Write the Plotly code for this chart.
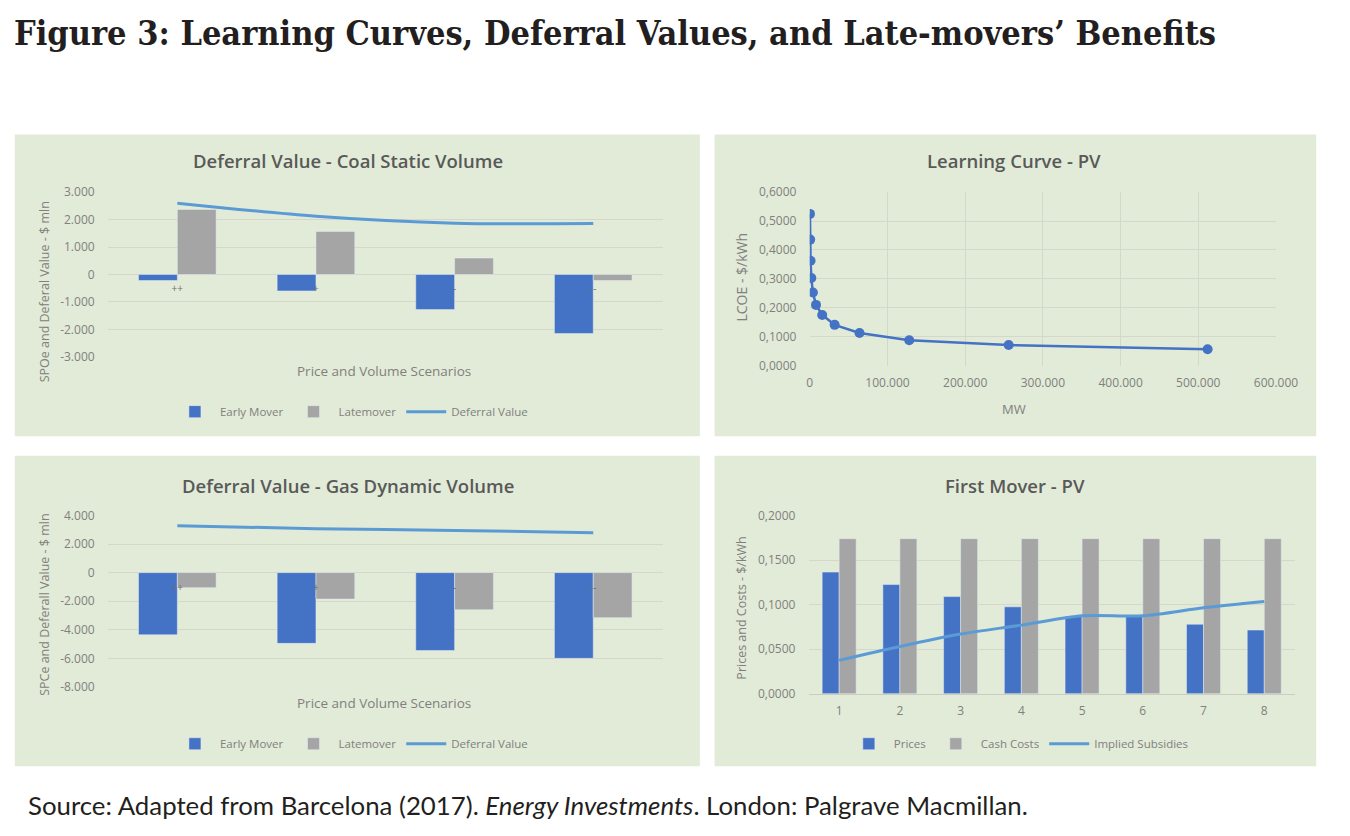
import plotly.graph_objects as go

W, H = 1350, 836

# ---------------- data ----------------
scenarios = ["++", "+", "-", "--"]
coal_early = [-220, -600, -1280, -2150]
coal_late = [2370, 1570, 600, -220]
coal_deferral = [2600, 2120, 1870, 1860]

gas_early = [-4350, -4950, -5450, -6000]
gas_late = [-1050, -1850, -2600, -3150]
gas_deferral = [3280, 3080, 2950, 2800]

lc_mw = [250, 500, 1000, 2000, 4000, 8000, 16000, 32000, 64000, 128000, 256000, 512000]
lc_lcoe = [0.525, 0.436, 0.363, 0.303, 0.253, 0.210, 0.175, 0.141, 0.113, 0.088, 0.071, 0.0565]

periods = ["1", "2", "3", "4", "5", "6", "7", "8"]
prices = [0.1365, 0.1225, 0.1090, 0.0975, 0.0870, 0.0870, 0.0780, 0.0715]
cash_costs = [0.1740, 0.1740, 0.1740, 0.1740, 0.1740, 0.1740, 0.1740, 0.1740]
implied_subsidies = [0.0375, 0.0530, 0.0670, 0.0770, 0.0875, 0.0875, 0.0965, 0.1035]

coal_ticks = [3000, 2000, 1000, 0, -1000, -2000, -3000]
gas_ticks = [4000, 2000, 0, -2000, -4000, -6000, -8000]
lc_yticks = [0.0, 0.1, 0.2, 0.3, 0.4, 0.5, 0.6]
lc_xticks = [0, 100000, 200000, 300000, 400000, 500000, 600000]
fm_yticks = [0.0, 0.05, 0.10, 0.15, 0.20]


def eu(v, dec=0):
    s = f"{v:,.{dec}f}"
    return s.replace(",", "X").replace(".", ",").replace("X", ".")


# ---------------- styling ----------------
BLUE = "#4472c4"
GREY = "#a5a5a5"
LBLUE = "#5b9bd5"
PANEL = "#e2ebd7"
GRID = "#d3d8cb"
TICK = "#808080"
FONT = "Open Sans, Liberation Sans, sans-serif"


def xd(a, b):
    return [a / W, b / W]


def yd(top, bottom):
    return [1 - bottom / H, 1 - top / H]


def px(x):
    return x / W


def py(y):
    return 1 - y / H


fig = go.Figure()

# ---- Coal (x/y) ----
fig.add_trace(go.Bar(x=scenarios, y=coal_early, name="Early Mover", marker_color=BLUE,
                     xaxis="x", yaxis="y", legend="legend"))
fig.add_trace(go.Bar(x=scenarios, y=coal_late, name="Latemover", marker_color=GREY,
                     xaxis="x", yaxis="y", legend="legend"))
fig.add_trace(go.Scatter(x=scenarios, y=coal_deferral, name="Deferral Value", mode="lines",
                         line=dict(color=LBLUE, width=3, shape="spline", smoothing=0.8),
                         xaxis="x", yaxis="y", legend="legend"))

# ---- Learning curve (x2/y2) ----
fig.add_trace(go.Scatter(x=lc_mw, y=lc_lcoe, mode="lines+markers", name="LCOE",
                         line=dict(color=BLUE, width=2.5), marker=dict(color=BLUE, size=10),
                         xaxis="x2", yaxis="y2", showlegend=False))

# ---- Gas (x3/y3) ----
fig.add_trace(go.Bar(x=scenarios, y=gas_early, name="Early Mover", marker_color=BLUE,
                     xaxis="x3", yaxis="y3", legend="legend2"))
fig.add_trace(go.Bar(x=scenarios, y=gas_late, name="Latemover", marker_color=GREY,
                     xaxis="x3", yaxis="y3", legend="legend2"))
fig.add_trace(go.Scatter(x=scenarios, y=gas_deferral, name="Deferral Value", mode="lines",
                         line=dict(color=LBLUE, width=3, shape="spline", smoothing=0.8),
                         xaxis="x3", yaxis="y3", legend="legend2"))

# ---- First mover (x4/y4) ----
fig.add_trace(go.Bar(x=periods, y=prices, name="Prices", marker_color=BLUE,
                     xaxis="x4", yaxis="y4", legend="legend3"))
fig.add_trace(go.Bar(x=periods, y=cash_costs, name="Cash Costs", marker_color=GREY,
                     xaxis="x4", yaxis="y4", legend="legend3"))
fig.add_trace(go.Scatter(x=periods, y=implied_subsidies, name="Implied Subsidies", mode="lines",
                         line=dict(color=LBLUE, width=3, shape="spline", smoothing=0.8),
                         xaxis="x4", yaxis="y4", legend="legend3"))

tickfont = dict(family=FONT, size=12, color=TICK)
ytick_common = dict(showgrid=True, gridcolor=GRID, zeroline=False, tickfont=tickfont,
                    ticks="outside", ticklen=10, tickcolor="rgba(0,0,0,0)")

# domains
coal_dom, coal_rng = yd(187, 355), [-3000, 3000]
gas_dom, gas_rng = yd(517, 692), [-8000, 4000]


def zero_pos(dom, rng):
    return dom[0] + (0 - rng[0]) / (rng[1] - rng[0]) * (dom[1] - dom[0])


cat_axis = dict(type="category", showgrid=False, showline=False, zeroline=False,
                ticks="outside", ticklen=5, tickcolor="rgba(0,0,0,0)",
                tickfont=dict(family=FONT, size=10, color="#707070"),
                anchor="free", fixedrange=True)

layout = dict(
    width=W, height=H,
    margin=dict(l=0, r=0, t=0, b=0),
    paper_bgcolor="white", plot_bgcolor="rgba(0,0,0,0)",
    barmode="group", bargroupgap=0,
    separators=",.",
    font=dict(family=FONT, color=TICK),
    xaxis=dict(domain=xd(107, 672), position=zero_pos(coal_dom, coal_rng), **cat_axis),
    yaxis=dict(domain=coal_dom, range=coal_rng, tickvals=coal_ticks,
               ticktext=[eu(v) for v in coal_ticks], anchor="x", **ytick_common),
    xaxis2=dict(domain=xd(822, 1297), range=[0, 600000], tickvals=lc_xticks,
                ticktext=[eu(v) for v in lc_xticks], showgrid=True, gridcolor=GRID,
                zeroline=False, showline=False, tickfont=tickfont, anchor="y2",
                ticks="outside", ticklen=6, tickcolor="rgba(0,0,0,0)"),
    yaxis2=dict(domain=yd(187, 364), range=[0, 0.6], tickvals=lc_yticks,
                ticktext=[eu(v, 4) for v in lc_yticks], anchor="x2", **ytick_common),
    xaxis3=dict(domain=xd(107, 672), position=zero_pos(gas_dom, gas_rng), **cat_axis),
    yaxis3=dict(domain=gas_dom, range=gas_rng, tickvals=gas_ticks,
                ticktext=[eu(v) for v in gas_ticks], anchor="x3", **ytick_common),
    xaxis4=dict(domain=xd(821, 1316), type="category", showgrid=False, zeroline=False,
                showline=True, linecolor="#c8cdc0", linewidth=1, anchor="y4",
                ticks="outside", ticklen=6, tickcolor="rgba(0,0,0,0)",
                tickfont=dict(family=FONT, size=12, color=TICK)),
    yaxis4=dict(domain=yd(517, 699), range=[0, 0.2], tickvals=fm_yticks,
                ticktext=[eu(v, 4) for v in fm_yticks], anchor="x4", **ytick_common),
)

legfont = dict(family=FONT, size=11.5, color=TICK)
leg = dict(orientation="h", xanchor="center", yanchor="middle", bgcolor="rgba(0,0,0,0)",
           font=legfont, itemwidth=40, tracegroupgap=0, traceorder="normal")
layout["legend"] = dict(x=px(355), y=py(411), **leg)
layout["legend2"] = dict(x=px(355), y=py(750), **leg)
layout["legend3"] = dict(x=px(1035), y=py(750), **leg)

# panel backgrounds
shapes = []
for (x0, y0, x1, y1) in [(12, 128, 710, 436), (725, 128, 1338, 436),
                         (12, 456, 710, 773), (725, 456, 1338, 773)]:
    shapes.append(dict(type="rect", xref="paper", yref="paper", layer="below",
                       x0=px(x0), x1=px(x1), y0=py(y1), y1=py(y0),
                       fillcolor=PANEL, line=dict(width=0)))
layout["shapes"] = shapes

ann = []


def add_text(text, x, y, size, color, weight="normal", angle=0, xanchor="center",
             family=FONT):
    ann.append(dict(text=text, x=px(x), y=py(y), xref="paper", yref="paper",
                    showarrow=False, xanchor=xanchor, yanchor="middle", textangle=angle,
                    font=dict(family=family, size=size, color=color, weight=weight)))


# figure title & source
add_text("Figure 3: Learning Curves, Deferral Values, and Late-movers’ Benefits", 9, 24, 34,
         "#231f20", weight="bold", xanchor="left",
         family="DejaVu Serif Condensed, DejaVu Serif, serif")
add_text("Source: Adapted from Barcelona (2017). <i>Energy Investments</i>. London: Palgrave Macmillan.",
         23, 813, 25.8, "#231f20", xanchor="left", family="Lato, Open Sans, sans-serif")

# chart titles
add_text("Deferral Value - Coal Static Volume", 351, 155, 18.5, "#595959", weight=600)
add_text("Learning Curve - PV", 1030, 155, 18.5, "#595959", weight=600)
add_text("Deferral Value - Gas Dynamic Volume", 351, 486, 18.5, "#595959", weight=600)
add_text("First Mover - PV", 1031, 486, 18.5, "#595959", weight=600)

# axis titles
add_text("Price and Volume Scenarios", 388, 370, 13.5, TICK)
add_text("Price and Volume Scenarios", 388, 708, 13.5, TICK)
add_text("SPOe and Deferal Value - $ mln", 42, 289, 12.5, TICK, angle=-90)
add_text("SPCe and Deferall Value - $ mln", 42, 608, 12.5, TICK, angle=-90)
add_text("MW", 1030, 408, 13, TICK)
add_text("LCOE - $/kWh", 752, 274, 14, TICK, angle=-90)
add_text("Prices and Costs - $/kWh", 752, 612, 12.5, TICK, angle=-90)

layout["annotations"] = ann
layout["bargap"] = 0.44

fig.update_layout(**layout)
fig.write_html("out.html")
